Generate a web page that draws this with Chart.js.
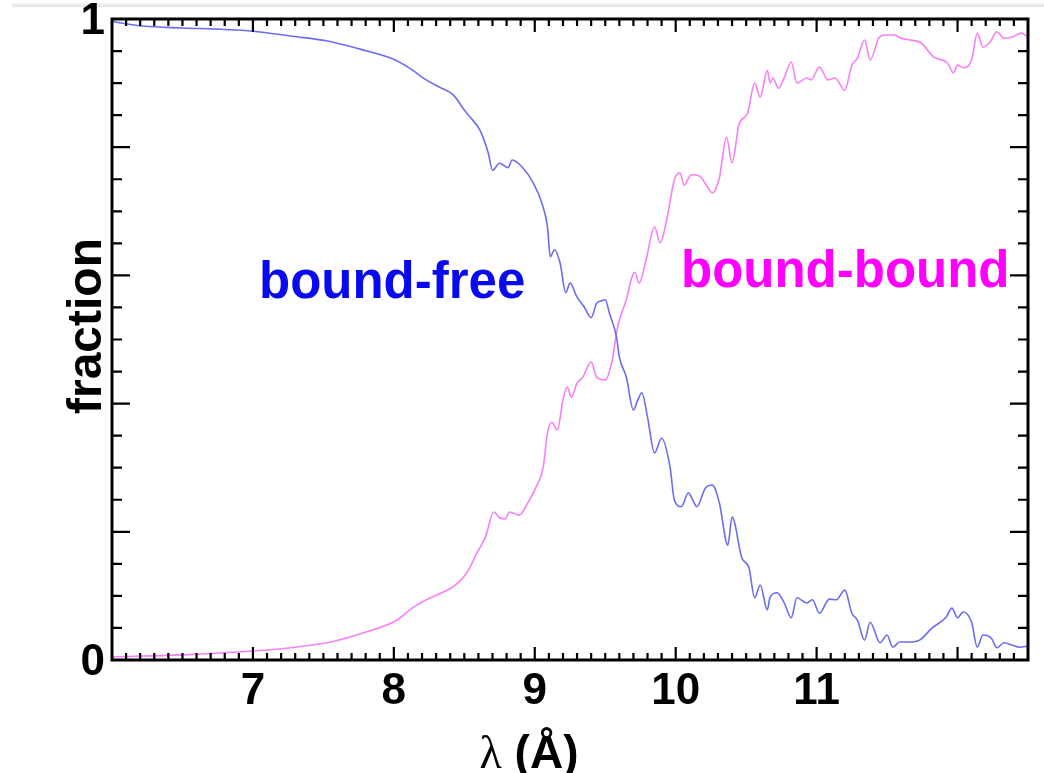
<!DOCTYPE html>
<html>
<head>
<meta charset="utf-8">
<script src="https://cdn.jsdelivr.net/npm/chart.js@4.4.1/dist/chart.umd.min.js"></script>
<style>
  html, body { margin: 0; padding: 0; background: #fff; }
  #wrap { position: relative; width: 1044px; height: 773px; overflow: hidden; background: #fff; }
  #topband { position: absolute; left: 12px; right: 0; top: 3px; height: 4px; background: linear-gradient(#f4f4f4, #e4e4e4); z-index: 0; }
  canvas { position: absolute; left: 0; top: 0; z-index: 1; }
</style>
</head>
<body>
<div id="wrap">
  <div id="topband"></div>
  <canvas id="c" width="1044" height="773"></canvas>
</div>
<script>
// ---- data ----
const bfWave = [6.00,6.22,6.50,6.77,7.00,7.28,7.52,7.76,7.99,8.10,8.23,8.33,8.42,8.50,8.54,8.61,8.67,8.70,8.75,8.81,8.84,8.91,8.99,9.05,9.09,9.11,9.14,9.18,9.22,9.25,9.30,9.35,9.40,9.44,9.47,9.50,9.53,9.58,9.60,9.65,9.70,9.73,9.76,9.80,9.85,9.90,9.96,9.99,10.04,10.09,10.12,10.15,10.21,10.26,10.31,10.37,10.40,10.47,10.52,10.56,10.60,10.65,10.67,10.72,10.77,10.82,10.86,10.93,10.97,11.02,11.09,11.14,11.20,11.25,11.29,11.34,11.38,11.45,11.50,11.54,11.59,11.66,11.73,11.82,11.92,11.96,12.00,12.04,12.10,12.14,12.18,12.24,12.28,12.33,12.39,12.44,12.50];
const bfFrac = [0.996,0.989,0.986,0.984,0.981,0.973,0.966,0.953,0.938,0.925,0.905,0.893,0.882,0.858,0.847,0.827,0.791,0.764,0.775,0.768,0.780,0.769,0.744,0.713,0.676,0.629,0.640,0.619,0.573,0.588,0.566,0.551,0.534,0.557,0.560,0.562,0.541,0.504,0.473,0.441,0.390,0.405,0.417,0.379,0.323,0.346,0.301,0.250,0.239,0.261,0.250,0.239,0.268,0.273,0.245,0.179,0.223,0.159,0.144,0.097,0.117,0.078,0.098,0.105,0.089,0.066,0.097,0.089,0.094,0.073,0.095,0.094,0.109,0.073,0.062,0.031,0.059,0.027,0.039,0.020,0.028,0.028,0.031,0.050,0.067,0.081,0.066,0.075,0.059,0.020,0.039,0.034,0.019,0.027,0.023,0.020,0.022];

const bbWave = [6.00,6.50,7.00,7.30,7.55,7.78,8.02,8.13,8.23,8.35,8.42,8.52,8.59,8.65,8.71,8.75,8.79,8.82,8.89,8.95,9.01,9.06,9.09,9.12,9.16,9.20,9.23,9.26,9.30,9.34,9.40,9.44,9.50,9.55,9.58,9.60,9.65,9.69,9.71,9.74,9.79,9.85,9.89,9.94,9.99,10.03,10.06,10.11,10.17,10.22,10.26,10.31,10.36,10.40,10.45,10.51,10.56,10.60,10.65,10.67,10.69,10.73,10.77,10.82,10.86,10.93,10.96,11.02,11.08,11.13,11.20,11.25,11.29,11.34,11.38,11.44,11.48,11.55,11.60,11.67,11.74,11.83,11.93,11.97,12.00,12.04,12.10,12.14,12.18,12.23,12.28,12.33,12.39,12.45,12.50];
const bbFrac = [0.005,0.008,0.014,0.020,0.028,0.042,0.062,0.081,0.094,0.106,0.114,0.137,0.167,0.192,0.231,0.222,0.220,0.231,0.226,0.245,0.270,0.301,0.354,0.371,0.359,0.406,0.426,0.410,0.432,0.441,0.465,0.441,0.437,0.468,0.510,0.530,0.562,0.598,0.605,0.588,0.624,0.676,0.651,0.691,0.749,0.760,0.741,0.757,0.755,0.740,0.729,0.752,0.816,0.776,0.836,0.853,0.900,0.878,0.920,0.900,0.908,0.892,0.908,0.933,0.900,0.908,0.905,0.925,0.905,0.908,0.889,0.928,0.939,0.967,0.936,0.970,0.975,0.975,0.970,0.967,0.963,0.941,0.931,0.916,0.928,0.924,0.936,0.978,0.956,0.964,0.980,0.970,0.972,0.978,0.972];

const xTickLabels = [7, 8, 9, 10, 11];
const yTickLabels = [0, 1];
const xRange = [6, 12.5];
const yRange = [0, 1];
const seriesNames = ['bound-free', 'bound-bound'];
const xTitle = 'λ (Å)';
const yTitle = 'fraction';

// ---- build ----
const toPts = (xs, ys) => xs.map((x, i) => ({ x: x, y: ys[i] }));

const FONT = '"Liberation Sans", Arial, Helvetica, sans-serif';

const framePlugin = {
  id: 'frameTicks',
  afterDatasetsDraw(chart) {
    const { ctx, chartArea: a, scales: { x, y } } = chart;
    ctx.save();
    ctx.strokeStyle = '#000';
    ctx.lineCap = 'butt';
    ctx.lineWidth = 2.2;
    for (let i = Math.round(xRange[0] * 10) + 1; i < Math.round(xRange[1] * 10); i++) {
      const v = i / 10;
      const px = x.getPixelForValue(v);
      const len = (i % 10 === 0) ? 13 : 7;
      ctx.beginPath();
      ctx.moveTo(px, a.bottom); ctx.lineTo(px, a.bottom - len);
      ctx.moveTo(px, a.top); ctx.lineTo(px, a.top + len);
      ctx.stroke();
    }
    for (let i = 1; i < 20; i++) {
      const v = i * 0.05;
      const py = y.getPixelForValue(v);
      const len = (i % 4 === 0) ? 18 : 10;
      ctx.beginPath();
      ctx.moveTo(a.left, py); ctx.lineTo(a.left + len, py);
      ctx.moveTo(a.right, py); ctx.lineTo(a.right - len, py);
      ctx.stroke();
    }
    ctx.lineWidth = 3;
    ctx.strokeRect(a.left, a.top, a.right - a.left, a.bottom - a.top);

    ctx.textBaseline = 'alphabetic';
    ctx.textAlign = 'left';
    ctx.font = 'bold 51px ' + FONT;
    ctx.fillStyle = '#0a0af0';
    ctx.fillText(seriesNames[0], 259, 298);
    ctx.fillStyle = '#ff00ff';
    ctx.fillText(seriesNames[1], 681, 287);

    ctx.save();
    ctx.translate(101, 326);
    ctx.rotate(-Math.PI / 2);
    ctx.textAlign = 'center';
    ctx.fillStyle = '#000';
    ctx.font = 'bold 48px ' + FONT;
    ctx.fillText(yTitle, 0, 0);
    ctx.restore();

    ctx.fillStyle = '#000';
    const lam = xTitle.slice(0, 1);
    const rest = xTitle.slice(1);
    ctx.font = '46px "Liberation Serif", "DejaVu Serif", serif';
    const wl = ctx.measureText(lam).width;
    ctx.font = 'bold 46px ' + FONT;
    const wr = ctx.measureText(rest).width;
    const startX = 529 - (wl + wr) / 2;
    ctx.font = '46px "Liberation Serif", "DejaVu Serif", serif';
    ctx.fillText(lam, startX, 768);
    ctx.font = 'bold 46px ' + FONT;
    ctx.fillText(rest, startX + wl, 768);
    ctx.restore();
  }
};

new Chart(document.getElementById('c'), {
  type: 'line',
  data: {
    datasets: [
      {
        label: seriesNames[0],
        data: toPts(bfWave, bfFrac),
        borderColor: 'rgb(108,108,240)',
        borderWidth: 1.6,
        pointRadius: 0,
        fill: false,
        cubicInterpolationMode: 'monotone'
      },
      {
        label: seriesNames[1],
        data: toPts(bbWave, bbFrac),
        borderColor: 'rgb(246,128,246)',
        borderWidth: 1.6,
        pointRadius: 0,
        fill: false,
        cubicInterpolationMode: 'monotone'
      }
    ]
  },
  options: {
    responsive: false,
    animation: false,
    events: [],
    layout: { padding: { top: 19, right: 16, left: 0, bottom: 0 } },
    plugins: { legend: { display: false }, tooltip: { enabled: false } },
    scales: {
      x: {
        type: 'linear',
        min: xRange[0], max: xRange[1],
        grid: { display: false, drawTicks: false },
        border: { display: false },
        afterBuildTicks: (axis) => { axis.ticks = xTickLabels.map(v => ({ value: v })); },
        afterFit: (axis) => { axis.height = 113; axis.paddingLeft = 0; axis.paddingRight = 0; },
        ticks: {
          maxRotation: 0, autoSkip: false,
          padding: 5,
          color: '#000',
          font: { family: FONT, weight: 'bold', size: 44 },
          callback: (v) => String(v)
        }
      },
      y: {
        type: 'linear',
        min: yRange[0], max: yRange[1],
        grid: { display: false, drawTicks: false },
        border: { display: false },
        afterBuildTicks: (axis) => { axis.ticks = yTickLabels.map(v => ({ value: v })); },
        afterFit: (axis) => { axis.width = 112; axis.paddingTop = 0; axis.paddingBottom = 0; },
        ticks: {
          autoSkip: false,
          padding: 7,
          labelOffset: 3,
          color: '#000',
          font: { family: FONT, weight: 'bold', size: 44 },
          callback: (v) => String(v)
        }
      }
    }
  },
  plugins: [framePlugin]
});
</script>
</body>
</html>
